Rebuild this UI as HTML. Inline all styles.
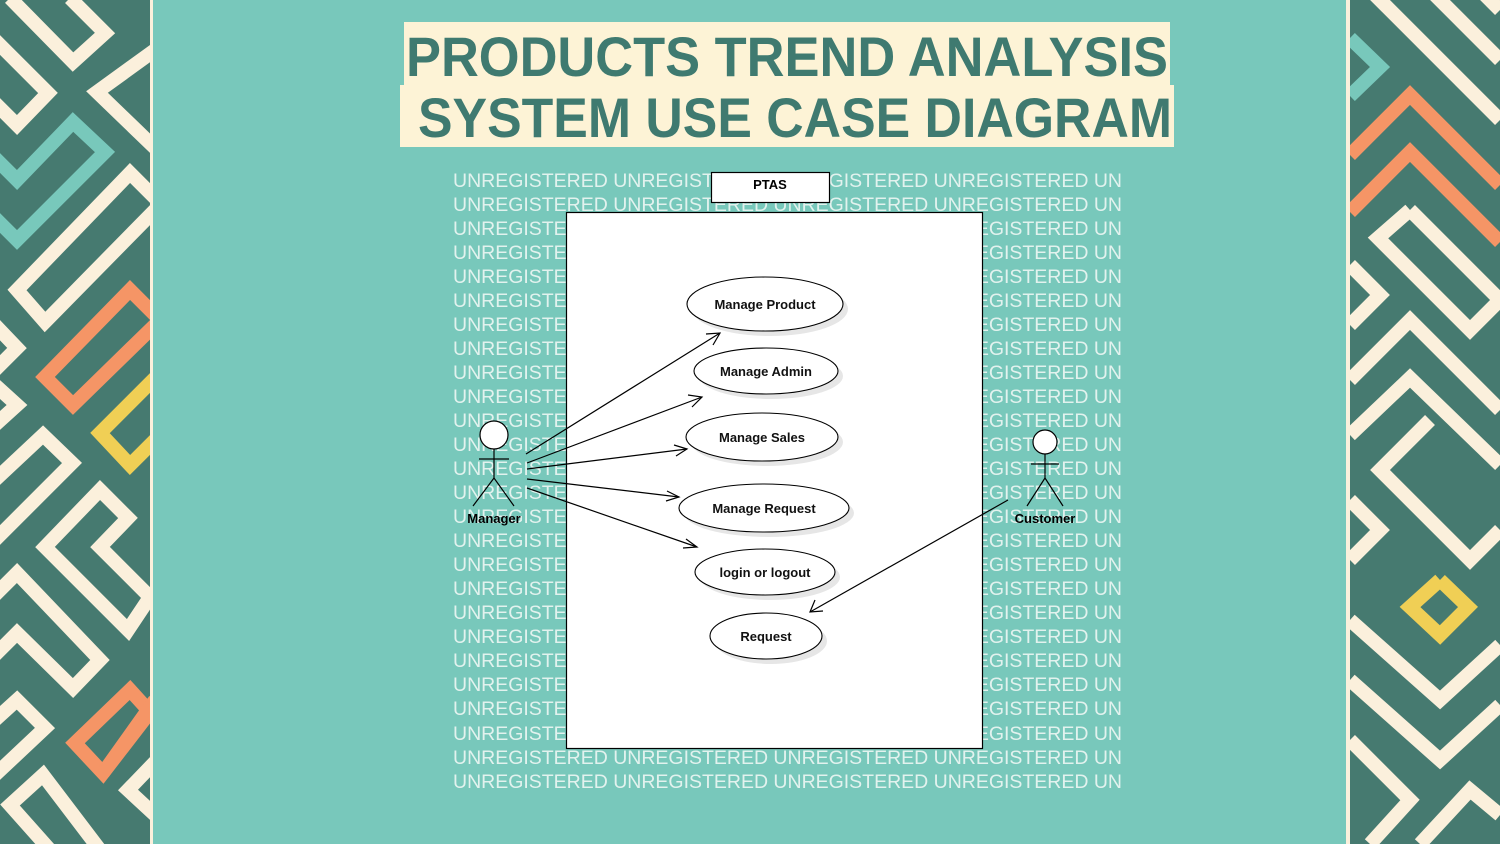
<!DOCTYPE html>
<html><head><meta charset="utf-8"><style>
html,body{margin:0;padding:0;width:1500px;height:844px;overflow:hidden;background:#78c8bb}
svg{display:block}
</style></head><body>
<svg width="1500" height="844" viewBox="0 0 1500 844" xmlns="http://www.w3.org/2000/svg" font-family="Liberation Sans, Arial, sans-serif">
<defs>
<clipPath id="cl"><rect x="0" y="0" width="150" height="844"/></clipPath>
<clipPath id="cr"><rect x="1350" y="0" width="150" height="844"/></clipPath>
</defs>
<rect width="1500" height="844" fill="#78c8bb"/>
<!-- left panel -->
<rect x="0" y="0" width="150" height="844" fill="#467a70"/>
<rect x="150" y="0" width="3" height="844" fill="#fbf0dc"/>
<g clip-path="url(#cl)" fill="none" stroke-width="14" stroke-linejoin="miter">
<polyline points="10,-2 73,62 105,33 70,-2" stroke="#fbf0dc"/>
<polyline points="-5,40 48,93 17,125 -5,103" stroke="#fbf0dc"/>
<polyline points="155,50 97,92 155,148" stroke="#fbf0dc"/>
<polyline points="-5,158 17,180 73,122 105,152 17,240 -5,218" stroke="#78c8bb"/>
<polyline points="155,210 45,322 17,290 130,173 155,198" stroke="#fbf0dc"/>
<polyline points="155,325 73,405 45,377 130,290 155,315" stroke="#f59566"/>
<polyline points="155,378 100,433 130,465 155,440" stroke="#f0cf55"/>
<polyline points="-5,325 17,348 -5,370" stroke="#fbf0dc"/>
<polyline points="-5,385 17,405 -5,425" stroke="#fbf0dc"/>
<polyline points="-5,480 43,435 72,463 -5,540" stroke="#fbf0dc"/>
<polygon points="100,490 128,518 100,547 150,597 128,630 45,547" stroke="#fbf0dc"/>
<polyline points="-5,595 17,573 100,660 73,688 17,633 -5,655" stroke="#fbf0dc"/>
<polyline points="-5,720 17,700 45,728 -5,775" stroke="#fbf0dc"/>
<polygon points="130,690 150,712 103,773 75,743" stroke="#f59566"/>
<polyline points="155,700 103,773" stroke="#f59566"/>
<polyline points="100,850 43,775 10,805 50,850" stroke="#fbf0dc"/>
<polyline points="155,762 128,790 155,815" stroke="#fbf0dc"/>
</g>
<!-- right panel -->
<rect x="1340" y="0" width="6" height="844" fill="#78c8bb"/>
<rect x="1346" y="0" width="4" height="844" fill="#fbf0dc"/>
<rect x="1350" y="0" width="150" height="844" fill="#467a70"/>
<g clip-path="url(#cr)" fill="none" stroke-width="14">
<polyline points="1370,-10 1500,120" stroke="#fbf0dc"/>
<polyline points="1430,-10 1500,60" stroke="#fbf0dc"/>
<polyline points="1480,-10 1500,10" stroke="#fbf0dc"/>
<polyline points="1350,38 1380,67 1350,96" stroke="#78c8bb"/>
<polyline points="1350,155 1410,95 1500,185" stroke="#f59566"/>
<polyline points="1350,212 1410,152 1500,242" stroke="#f59566"/>
<polyline points="1410,210 1378,238 1470,330 1500,300 1410,210" stroke="#fbf0dc"/>
<polyline points="1350,265 1380,295 1350,325" stroke="#fbf0dc"/>
<polyline points="1350,380 1410,320 1500,410" stroke="#fbf0dc"/>
<polyline points="1350,435 1410,378 1500,465" stroke="#fbf0dc"/>
<polyline points="1430,420 1380,470 1470,560 1500,530" stroke="#fbf0dc"/>
<polyline points="1350,500 1380,530 1350,560" stroke="#fbf0dc"/>
<polyline points="1440,580 1410,607 1440,635 1468,607 1440,580" stroke="#f0cf55"/>
<polyline points="1350,620 1440,700 1500,645" stroke="#fbf0dc"/>
<polyline points="1350,680 1440,760 1500,705" stroke="#fbf0dc"/>
<polyline points="1350,740 1410,800 1370,844" stroke="#fbf0dc"/>
<polyline points="1420,844 1470,790 1500,815" stroke="#fbf0dc"/>
</g>
<!-- title -->
<rect x="404" y="22" width="766" height="63" fill="#fdf3d6"/>
<rect x="400" y="85" width="774" height="62" fill="#fdf3d6"/>
<g font-weight="bold" font-size="56" fill="#3f7a70">
<text x="406" y="76" textLength="762" lengthAdjust="spacingAndGlyphs">PRODUCTS TREND ANALYSIS</text>
<text x="418" y="137" textLength="754" lengthAdjust="spacingAndGlyphs">SYSTEM USE CASE DIAGRAM</text>
</g>
<!-- watermark -->
<g font-size="19.5" fill="#e2f2ee">
<text x="453" y="187" textLength="669">UNREGISTERED UNREGISTERED UNREGISTERED UNREGISTERED UN</text>
<text x="453" y="211" textLength="669">UNREGISTERED UNREGISTERED UNREGISTERED UNREGISTERED UN</text>
<text x="453" y="235" textLength="669">UNREGISTERED UNREGISTERED UNREGISTERED UNREGISTERED UN</text>
<text x="453" y="259" textLength="669">UNREGISTERED UNREGISTERED UNREGISTERED UNREGISTERED UN</text>
<text x="453" y="283" textLength="669">UNREGISTERED UNREGISTERED UNREGISTERED UNREGISTERED UN</text>
<text x="453" y="307" textLength="669">UNREGISTERED UNREGISTERED UNREGISTERED UNREGISTERED UN</text>
<text x="453" y="331" textLength="669">UNREGISTERED UNREGISTERED UNREGISTERED UNREGISTERED UN</text>
<text x="453" y="355" textLength="669">UNREGISTERED UNREGISTERED UNREGISTERED UNREGISTERED UN</text>
<text x="453" y="379" textLength="669">UNREGISTERED UNREGISTERED UNREGISTERED UNREGISTERED UN</text>
<text x="453" y="403" textLength="669">UNREGISTERED UNREGISTERED UNREGISTERED UNREGISTERED UN</text>
<text x="453" y="427" textLength="669">UNREGISTERED UNREGISTERED UNREGISTERED UNREGISTERED UN</text>
<text x="453" y="451" textLength="669">UNREGISTERED UNREGISTERED UNREGISTERED UNREGISTERED UN</text>
<text x="453" y="475" textLength="669">UNREGISTERED UNREGISTERED UNREGISTERED UNREGISTERED UN</text>
<text x="453" y="499" textLength="669">UNREGISTERED UNREGISTERED UNREGISTERED UNREGISTERED UN</text>
<text x="453" y="523" textLength="669">UNREGISTERED UNREGISTERED UNREGISTERED UNREGISTERED UN</text>
<text x="453" y="547" textLength="669">UNREGISTERED UNREGISTERED UNREGISTERED UNREGISTERED UN</text>
<text x="453" y="571" textLength="669">UNREGISTERED UNREGISTERED UNREGISTERED UNREGISTERED UN</text>
<text x="453" y="595" textLength="669">UNREGISTERED UNREGISTERED UNREGISTERED UNREGISTERED UN</text>
<text x="453" y="619" textLength="669">UNREGISTERED UNREGISTERED UNREGISTERED UNREGISTERED UN</text>
<text x="453" y="643" textLength="669">UNREGISTERED UNREGISTERED UNREGISTERED UNREGISTERED UN</text>
<text x="453" y="667" textLength="669">UNREGISTERED UNREGISTERED UNREGISTERED UNREGISTERED UN</text>
<text x="453" y="691" textLength="669">UNREGISTERED UNREGISTERED UNREGISTERED UNREGISTERED UN</text>
<text x="453" y="715" textLength="669">UNREGISTERED UNREGISTERED UNREGISTERED UNREGISTERED UN</text>
<text x="453" y="740" textLength="669">UNREGISTERED UNREGISTERED UNREGISTERED UNREGISTERED UN</text>
<text x="453" y="764" textLength="669">UNREGISTERED UNREGISTERED UNREGISTERED UNREGISTERED UN</text>
<text x="453" y="788" textLength="669">UNREGISTERED UNREGISTERED UNREGISTERED UNREGISTERED UN</text>
</g>
<!-- system boxes -->
<rect x="566.5" y="212.5" width="416" height="536" fill="#fff" stroke="#000" stroke-width="1.2"/>
<rect x="711.5" y="172.5" width="118" height="30" fill="#fff" stroke="#000" stroke-width="1.2"/>
<text x="770" y="189" font-size="13" font-weight="bold" text-anchor="middle">PTAS</text>
<!-- use cases -->
<g fill="#e6e6e6">
<ellipse cx="770" cy="309" rx="78" ry="27"/>
<ellipse cx="771" cy="376" rx="72" ry="23"/>
<ellipse cx="767" cy="442" rx="76" ry="24"/>
<ellipse cx="769" cy="513" rx="85" ry="24"/>
<ellipse cx="770" cy="577" rx="70" ry="23"/>
<ellipse cx="771" cy="641" rx="56" ry="23"/>
</g>
<g fill="#fff" stroke="#000" stroke-width="1.1">
<ellipse cx="765" cy="304" rx="78" ry="27"/>
<ellipse cx="766" cy="371" rx="72" ry="23"/>
<ellipse cx="762" cy="437" rx="76" ry="24"/>
<ellipse cx="764" cy="508" rx="85" ry="24"/>
<ellipse cx="765" cy="572" rx="70" ry="23"/>
<ellipse cx="766" cy="636" rx="56" ry="23"/>
</g>
<g font-size="13" font-weight="bold" text-anchor="middle" fill="#111">
<text x="765" y="309">Manage Product</text>
<text x="766" y="376">Manage Admin</text>
<text x="762" y="442">Manage Sales</text>
<text x="764" y="513">Manage Request</text>
<text x="765" y="577">login or logout</text>
<text x="766" y="641">Request</text>
</g>
<!-- actors -->
<g fill="none" stroke="#000" stroke-width="1.2">
<circle cx="494" cy="435" r="14" fill="#fff"/>
<line x1="494" y1="449" x2="494" y2="478"/>
<line x1="479" y1="459" x2="509" y2="459"/>
<polyline points="473,506 494,478 514,506"/>
<circle cx="1045" cy="442" r="12" fill="#fff"/>
<line x1="1045" y1="454" x2="1045" y2="478"/>
<line x1="1031" y1="464" x2="1059" y2="464"/>
<polyline points="1027,506 1045,478 1063,506"/>
<line x1="526" y1="454" x2="720" y2="333"/>
<polyline points="706,334 720,333 713,345"/>
<line x1="527" y1="463" x2="702" y2="397"/>
<polyline points="688,395 702,397 692,407"/>
<line x1="527" y1="469" x2="687" y2="449"/>
<polyline points="674,445 687,449 676,456"/>
<line x1="527" y1="479" x2="679" y2="497"/>
<polyline points="667,491 679,497 666,501"/>
<line x1="527" y1="488" x2="697" y2="547"/>
<polyline points="686,539 697,547 683,548"/>
<line x1="1008" y1="500" x2="810" y2="612"/>
<polyline points="815,600 810,612 823,611"/>
</g>
<text x="494" y="523" font-size="13" font-weight="bold" text-anchor="middle">Manager</text>
<text x="1045" y="523" font-size="13" font-weight="bold" text-anchor="middle">Customer</text>
</svg>
</body></html>
